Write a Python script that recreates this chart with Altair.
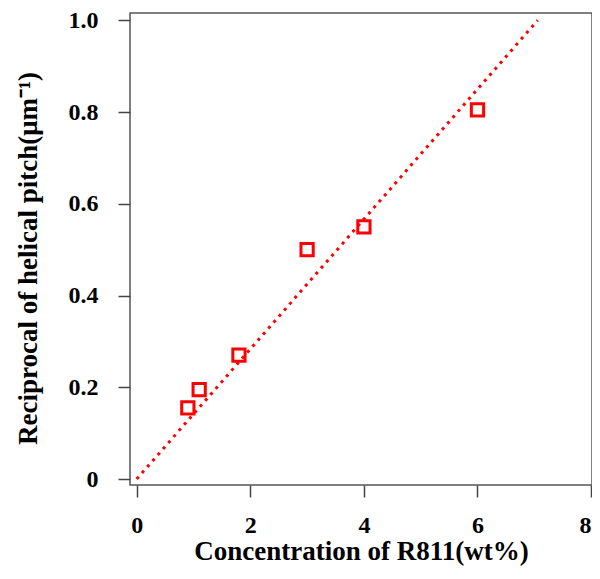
import altair as alt
import pandas as pd

conc = [0.9, 1.1, 1.8, 3.0, 4.0, 6.0]
recip = [0.155, 0.195, 0.27, 0.50, 0.55, 0.805]
fit_x = [0.0, 7.06]
fit_y = [0.0, 1.0]
x_ticks = [0, 2, 4, 6, 8]
y_ticks = [0, 0.2, 0.4, 0.6, 0.8, 1.0]

pts = pd.DataFrame({"x": conc, "y": recip})
fit = pd.DataFrame({"x": fit_x, "y": fit_y})

FONT = "Liberation Serif"
xscale = alt.Scale(domain=[-0.118, 8.016], nice=False, zero=False)
yscale = alt.Scale(domain=[-0.013, 1.016], nice=False, zero=False)

xax = alt.Axis(values=x_ticks, domain=False, grid=False, tickSize=12, tickColor="#444",
               tickWidth=1.5, labelFont=FONT, labelFontSize=24, labelFontWeight="bold",
               labelColor="#000", labelPadding=16, title="Concentration of R811(wt%)",
               titleFont=FONT, titleFontSize=27, titleFontWeight="bold", titleColor="#000",
               titlePadding=1, format="d")
yax = alt.Axis(values=y_ticks, domain=False, grid=False, tickSize=12, tickColor="#444",
               tickWidth=1.5, labelFont=FONT, labelFontSize=24, labelFontWeight="bold",
               labelColor="#000", labelPadding=20,
               labelExpr="datum.value == 0 ? '0' : format(datum.value, '.1f')",
               title="Reciprocal of helical pitch(μm⁻¹)",
               titleFont=FONT, titleFontSize=27, titleFontWeight="bold", titleColor="#000",
               titlePadding=26, titleY=245)

line = alt.Chart(fit).mark_line(color="#ff0000", strokeWidth=3, strokeDash=[3, 5]).encode(
    x=alt.X("x:Q", scale=xscale, axis=xax),
    y=alt.Y("y:Q", scale=yscale, axis=yax),
)
points = alt.Chart(pts).mark_point(shape="square", filled=False, color="#ff0000",
                                   size=150, strokeWidth=3, opacity=1).encode(
    x=alt.X("x:Q", scale=xscale),
    y=alt.Y("y:Q", scale=yscale),
)

chart = (line + points).properties(
    width=462, height=472,
    autosize=alt.AutoSizeParams(type="none"),
    padding={"left": 122, "top": 5, "right": 0, "bottom": 84},
).configure(background="white").configure_view(stroke="#555", strokeWidth=1.5)

chart.save("out.html", embed_options={"renderer": "svg", "actions": False})
